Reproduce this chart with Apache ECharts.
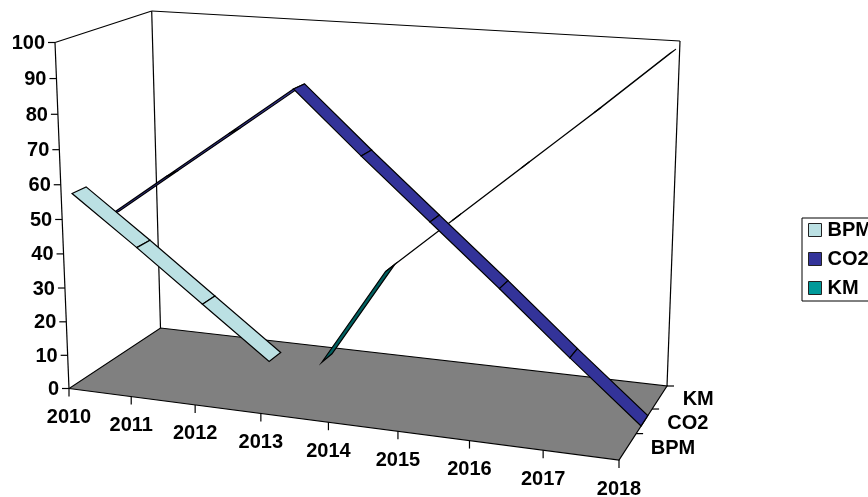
<!DOCTYPE html>
<html><head><meta charset="utf-8">
<style>html,body{margin:0;padding:0;background:#fff}#c{width:868px;height:497px}</style>
<script src="https://cdn.jsdelivr.net/npm/echarts@6/dist/echarts.min.js"></script>
</head><body><div id="c"></div>
<script>
const years = ['2010','2011','2012','2013','2014','2015','2016','2017','2018'];
const valueTicks = [0,10,20,30,40,50,60,70,80,90,100];
const depthNames = ['BPM','CO2','KM'];
const BPM = [56,42,27.5,13,null,null,null,null,null];
const CO2 = [44,58,72,86,68.5,51.5,34.5,17,0];
const KM  = [null,null,null,0,30,47,64,81,98.5];

const FONT = 'bold 20px "Liberation Sans", Arial, sans-serif';
// perspective of the box, from its visible corners
const A=[69,388.5],C=[619,460],B=[160.5,328],D=[667,386],T=[55,42.5],TOPBR=[680,41];
const wy=.955;
const det=(C[0]-D[0])*(B[1]-D[1])-(B[0]-D[0])*(C[1]-D[1]);
const wx=((A[0]-D[0])*(B[1]-D[1])-(B[0]-D[0])*(A[1]-D[1]))/det;
const wz=((C[0]-D[0])*(A[1]-D[1])-(A[0]-D[0])*(C[1]-D[1]))/det;
function raw(x,y,z){
  const w=1+x*(wx-1)+z*(wz-1)+y*(wy-1);
  return [0,1].map(k=>(A[k]+x*(wx*C[k]-A[k])+z*(wz*B[k]-A[k])+y*(wy*T[k]-A[k]))/w);
}
const rc=raw(1,1,1), fix=[TOPBR[0]-rc[0],TOPBR[1]-rc[1]];
function proj(x,y,z){const p=raw(x,y,z);return [p[0]+x*y*z*fix[0],p[1]+x*y*z*fix[1]];}
// axis point -> fractions of the grid -> box
function unit(params,api,i,v){
  const p=api.coord([i,v]),r=params.coordSys;
  return [(p[0]-r.x)/r.width,(r.y+r.height-p[1])/r.height];
}
const seg=(a,b,w)=>({type:'line',shape:{x1:a[0],y1:a[1],x2:b[0],y2:b[1]},style:{stroke:'#000',lineWidth:w||1.2}});
const txt=(s,x,y,al)=>({type:'text',style:{text:String(s),x,y,align:al,verticalAlign:'middle',font:FONT,fill:'#000'}});

function frame(params,api){
  const c=[];
  const P=(x,y,z)=>proj(x,y,z);
  c.push({type:'polygon',shape:{points:[P(0,0,0),P(1,0,0),P(1,0,1),P(0,0,1)]},style:{fill:'#808080',stroke:'#000',lineWidth:1.2}});
  c.push(seg(P(0,0,0),P(0,1,0)),seg(P(0,1,0),P(0,1,1)),seg(P(0,1,1),P(0,0,1)),seg(P(0,1,1),P(1,1,1)),seg(P(1,1,1),P(1,0,1)));
  valueTicks.forEach(v=>{
    const u=unit(params,api,0,v),p=P(0,u[1],0);
    c.push(seg([p[0]-7,p[1]],p));
    c.push(txt(v,p[0]-10,p[1]+1,'right'));
  });
  years.forEach((y,i)=>{
    const u=unit(params,api,i,0),p=P(u[0],0,0);
    c.push(seg(p,[p[0],p[1]+8]));
    c.push(txt(y,p[0],p[1]+29,'center'));
  });
  depthNames.forEach((n,i)=>{
    const p=P(1,0,(i+1)/3);
    c.push(seg(p,[p[0]+7,p[1]]));
    const q=P(1,0,(i+.5)/3);
    c.push(txt(n,q[0]+23,q[1]+2,'left'));
  });
  return {type:'group',children:c};
}
function ribbon(values,zc,fill){
  const h=.07;
  return function(params,api){
    const i=params.dataIndex;
    if(values[i]==null||i+1>=values.length||values[i+1]==null) return null;
    const a=unit(params,api,i,values[i]),b=unit(params,api,i+1,values[i+1]);
    return {type:'polygon',shape:{points:[proj(a[0],a[1],zc-h),proj(a[0],a[1],zc+h),proj(b[0],b[1],zc+h),proj(b[0],b[1],zc-h)]},
      style:{fill,stroke:'#000',lineWidth:1.2}};
  };
}
const mk=(name,values,zc,fill,z)=>({name,type:'custom',coordinateSystem:'cartesian2d',z,
  itemStyle:{color:fill},renderItem:ribbon(values,zc,fill),silent:true,animation:false,clip:false,
  data:values.map((v,i)=>[i,v])});
const chart=echarts.init(document.getElementById('c'),null,{renderer:'canvas'});
chart.setOption({
  animation:false,backgroundColor:'#fff',
  grid:{left:69,top:42,width:550,height:346},
  xAxis:{type:'category',data:years,boundaryGap:false,show:false},
  yAxis:{type:'value',min:0,max:100,interval:10,show:false},
  legend:{orient:'vertical',left:802,top:218,padding:[2,30,3,6],itemGap:9,itemWidth:13,itemHeight:13,
    backgroundColor:'#fff',borderColor:'#000',borderWidth:1,icon:'rect',
    selectedMode:false,
    textStyle:{fontSize:20,fontWeight:'bold',fontFamily:'"Liberation Sans", Arial, sans-serif',color:'#000',padding:[0,0,0,1]},
    data:[
      {name:'BPM',itemStyle:{color:'#BBE0E3',borderColor:'#222',borderWidth:1}},
      {name:'CO2',itemStyle:{color:'#333399',borderColor:'#222',borderWidth:1}},
      {name:'KM',itemStyle:{color:'#009999',borderColor:'#222',borderWidth:1}}]},
  series:[
    {type:'custom',name:'frame',coordinateSystem:'cartesian2d',z:1,silent:true,clip:false,renderItem:frame,data:[[0,0]]},
    mk('KM',KM,.84,'#006060',2),
    mk('CO2',CO2,.505,'#333399',3),
    mk('BPM',BPM,.175,'#BBE0E3',4)
  ]
});
</script></body></html>
